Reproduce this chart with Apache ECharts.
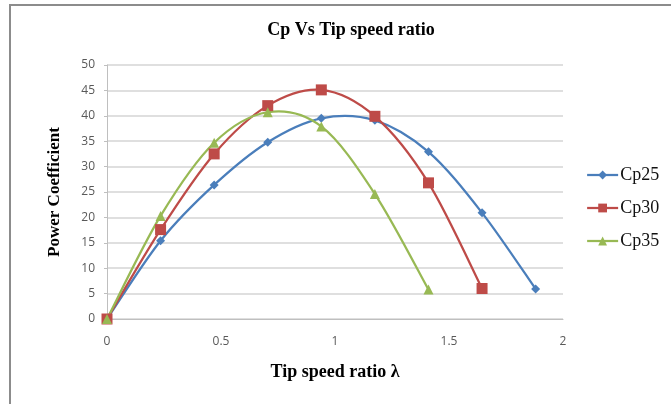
<!DOCTYPE html>
<html>
<head>
<meta charset="utf-8">
<script src="https://cdn.jsdelivr.net/npm/echarts@6/dist/echarts.min.js"></script>
<style>
  html, body { margin: 0; padding: 0; background: #fff; }
  #chart { width: 671px; height: 404px; }
</style>
</head>
<body>
<div id="chart"></div>
<script>
// Tip speed ratio samples (λ) and power coefficient per pitch setting
const lambda = [0, 0.235, 0.47, 0.705, 0.94, 1.175, 1.41, 1.645, 1.88];
const cp25 = [0, 15.4, 26.4, 34.8, 39.5, 39.1, 32.9, 20.9, 5.9];
const cp30 = [0, 17.6, 32.5, 42.0, 45.1, 39.9, 26.8, 6.0];
const cp35 = [0, 20.3, 34.7, 40.7, 37.9, 24.6, 5.8];
const seriesNames = ['Cp25', 'Cp30', 'Cp35'];
const xTicks = [0, 0.5, 1, 1.5, 2];

const pairs = (vals) => vals.map((v, i) => [lambda[i], v]);

const serif = '"Liberation Serif", "Times New Roman", serif';
const sans = '"Open Sans", "Liberation Sans", sans-serif';

const chart = echarts.init(document.getElementById('chart'), null, { renderer: 'canvas' });

const colors = ['#4A7EBB', '#BE4B48', '#98B954'];
const symbols = ['diamond', 'rect', 'triangle'];
const symbolSizes = [9, 11, 10];
const data = [cp25, cp30, cp35];

// Smooth curve through the points (Catmull-Rom converted to cubic Bézier,
// computed in pixel space from the axis coordinates of each point).
function curveSeries(vals, color) {
  const pts = pairs(vals);
  return {
    type: 'custom',
    name: '_curve',
    data: pts,
    z: 2,
    silent: true,
    renderItem(params, api) {
      const i = params.dataIndex;
      if (i >= pts.length - 1) return null;
      const at = (j) => api.coord(pts[Math.max(0, Math.min(pts.length - 1, j))]);
      const p0 = at(i - 1), p1 = at(i), p2 = at(i + 1), p3 = at(i + 2);
      return {
        type: 'bezierCurve',
        shape: {
          x1: p1[0], y1: p1[1],
          x2: p2[0], y2: p2[1],
          cpx1: p1[0] + (p2[0] - p0[0]) / 6, cpy1: p1[1] + (p2[1] - p0[1]) / 6,
          cpx2: p2[0] - (p3[0] - p1[0]) / 6, cpy2: p2[1] - (p3[1] - p1[1]) / 6
        },
        style: { fill: null, stroke: color, lineWidth: 2.25 }
      };
    }
  };
}

chart.setOption({
  animation: false,
  backgroundColor: '#fff',
  title: {
    text: 'Cp Vs Tip speed ratio',
    left: 346,
    top: 16,
    textAlign: 'center',
    textStyle: { fontFamily: serif, fontWeight: 'bold', fontSize: 18, color: '#000' }
  },
  graphic: [{
    type: 'rect',
    shape: { x: 10, y: 5, width: 700, height: 450 },
    style: { fill: 'none', stroke: '#8c8c8c', lineWidth: 2 },
    silent: true
  }],
  legend: {
    orient: 'vertical',
    left: 581,
    top: 160,
    itemWidth: 31,
    itemHeight: 11,
    itemGap: 13,
    data: seriesNames.map((name, k) => ({
      name,
      lineStyle: { color: colors[k], width: 2.25, opacity: 1 }
    })),
    textStyle: {
      fontFamily: serif, fontSize: 18, lineHeight: 20, color: '#111',
      padding: [0, 0, 0, -3]
    }
  },
  grid: { left: 107, right: 108, top: 65, bottom: 85 },
  xAxis: {
    type: 'value',
    min: 0,
    max: 2,
    interval: 0.5,
    name: 'Tip speed ratio λ',
    nameLocation: 'middle',
    nameGap: 44,
    nameTextStyle: { fontFamily: serif, fontWeight: 'bold', fontSize: 18, color: '#000' },
    axisLine: { show: true, lineStyle: { color: '#bfbfbf', width: 1 } },
    axisTick: { show: false },
    splitLine: { show: false },
    axisLabel: {
      margin: 17,
      fontFamily: sans,
      fontSize: 12,
      color: '#595959',
      customValues: xTicks,
      formatter: (v) => String(v)
    }
  },
  yAxis: {
    type: 'value',
    min: 0,
    max: 50,
    interval: 5,
    name: 'Power Coefficient',
    nameLocation: 'middle',
    nameGap: 44,
    nameRotate: 90,
    nameTextStyle: { fontFamily: serif, fontWeight: 'bold', fontSize: 17, color: '#000' },
    axisLine: { show: true, lineStyle: { color: '#bfbfbf', width: 1 } },
    axisTick: { show: true, length: 3, lineStyle: { color: '#bfbfbf' } },
    splitLine: { show: true, lineStyle: { color: '#d4d4d4', width: 1.5 } },
    axisLabel: { margin: 12, fontFamily: sans, fontSize: 12, color: '#595959' }
  },
  series: [
    ...data.map((vals, k) => curveSeries(vals, colors[k])),
    ...seriesNames.map((name, k) => ({
      name,
      type: 'line',
      data: pairs(data[k]),
      symbol: symbols[k],
      symbolSize: symbolSizes[k],
      showAllSymbol: true,
      color: colors[k],
      lineStyle: { width: 2.25, color: colors[k], opacity: 0 },
      itemStyle: { color: colors[k] },
      z: 3
    }))
  ]
});
</script>
</body>
</html>
